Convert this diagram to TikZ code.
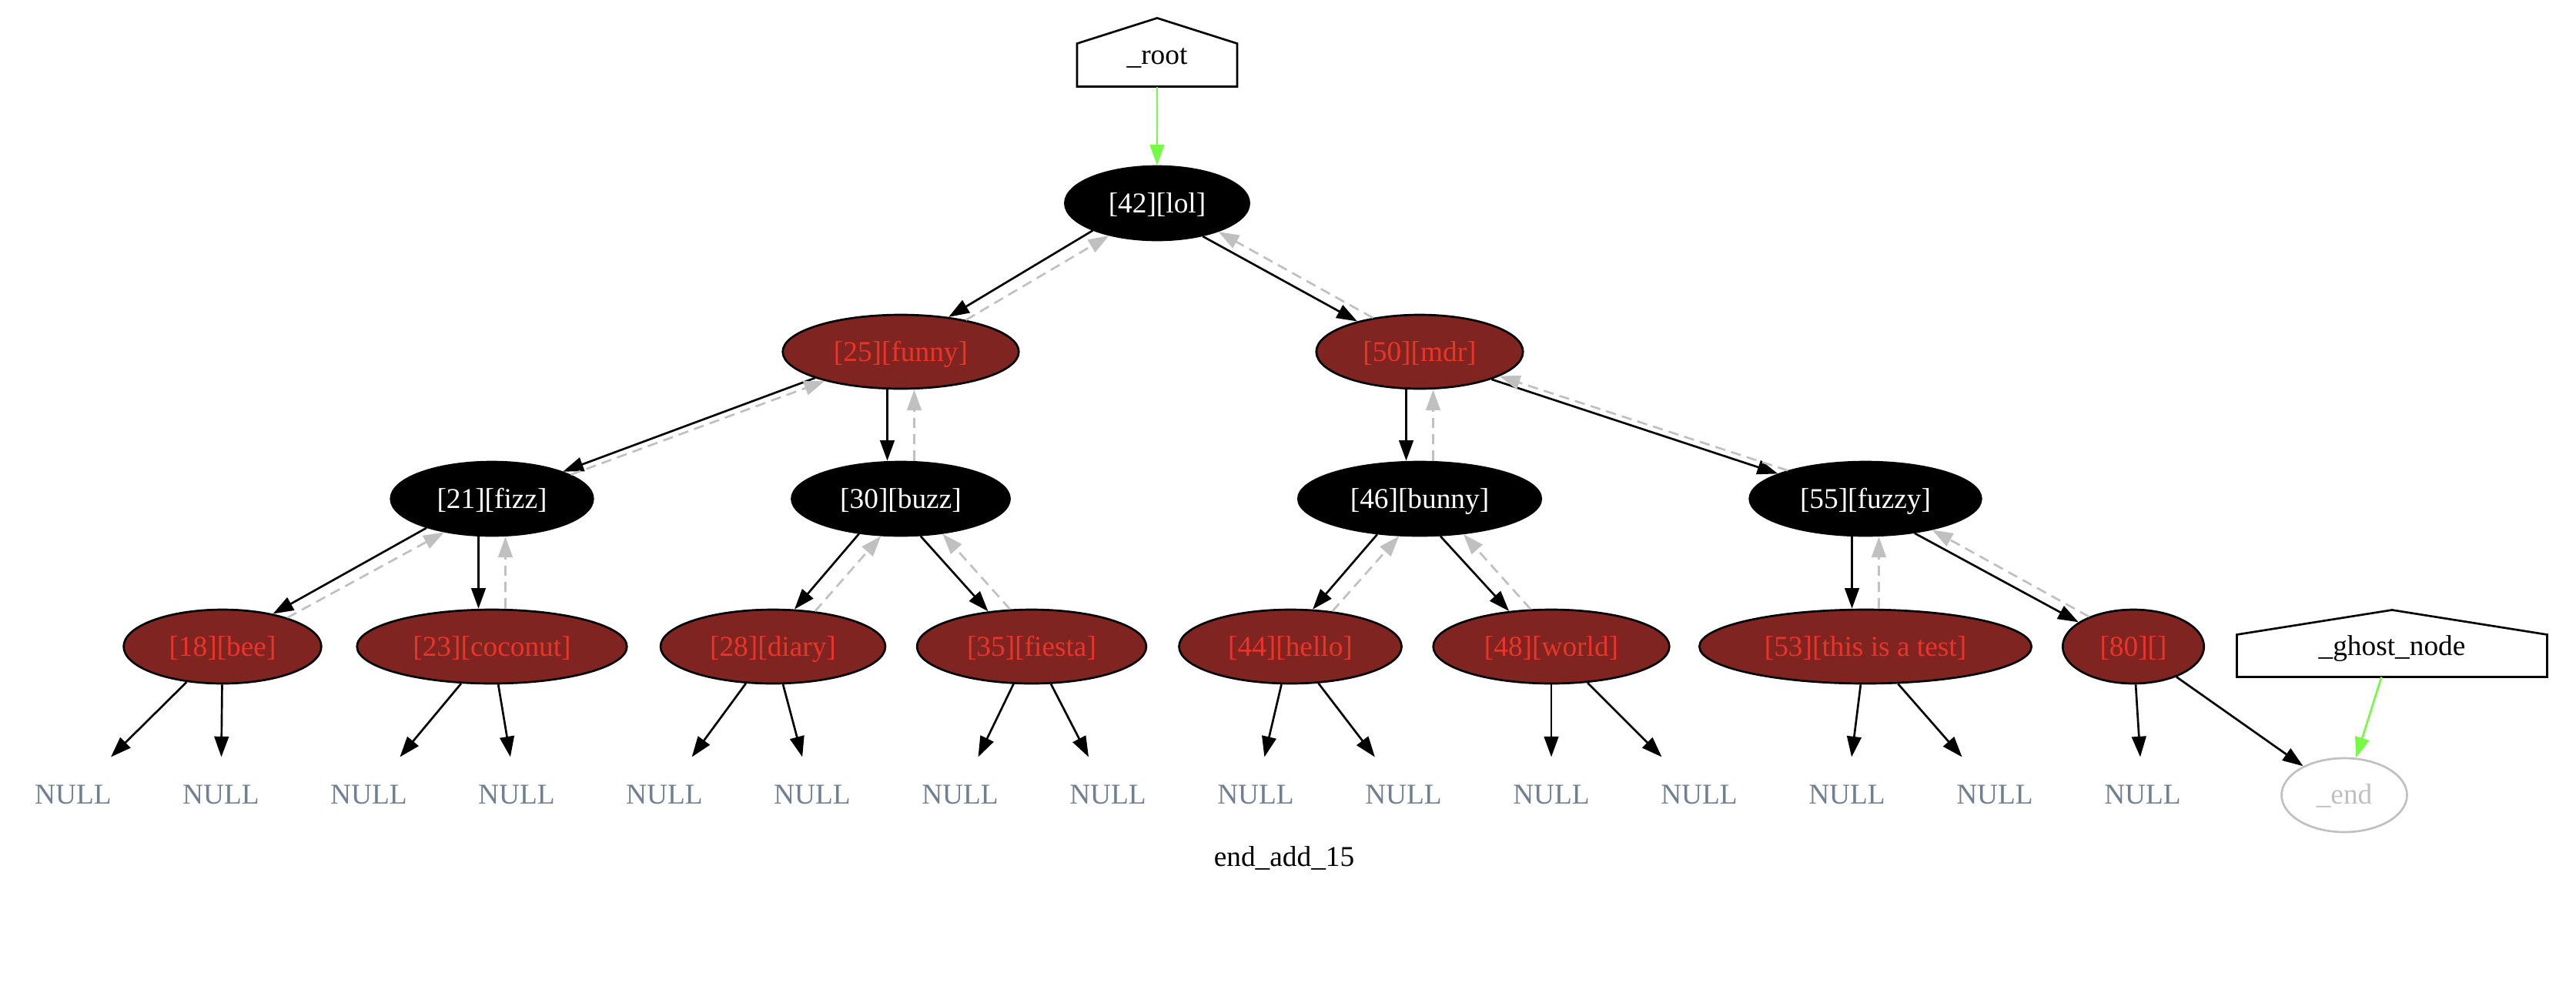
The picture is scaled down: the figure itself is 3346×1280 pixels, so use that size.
\documentclass[tikz,border=0pt]{standalone}
\usepackage{fontspec}
\setmainfont{Liberation Serif}
\usetikzlibrary{arrows.meta,calc,shapes.geometric}
\definecolor{rbfill}{RGB}{128,36,33}
\definecolor{rbtext}{RGB}{235,52,40}
\definecolor{nulltext}{RGB}{112,128,144}
\definecolor{ghostgray}{RGB}{192,192,192}
\definecolor{linkgreen}{RGB}{118,250,72}
\tikzset{
  every node/.style={font=\fontsize{14pt}{16pt}\selectfont},
  rbnode/.style={ellipse, draw=black, line width=1pt, inner xsep=8pt, inner ysep=4pt, minimum height=36pt, minimum width=54pt, text height=11pt, text depth=2pt},
  blacknode/.style={rbnode, fill=black, text=white},
  rednode/.style={rbnode, fill=rbfill, text=rbtext},
  nullnode/.style={rectangle, minimum width=54pt, minimum height=36pt, inner sep=0pt, text=nulltext},
  endnode/.style={ellipse, draw=ghostgray, line width=1pt, text=ghostgray, inner xsep=8pt, inner ysep=4pt, minimum height=36pt, minimum width=54pt, text height=10.5pt, text depth=2pt},
  housenode/.style={rectangle, inner sep=0pt, text height=11.6pt, text depth=0pt},
  houseline/.style={line width=1pt, line join=miter},
  childedge/.style={line width=1pt, -{Triangle[length=10pt,width=7pt]}},
  parentedge/.style={line width=1pt, color=ghostgray, dash pattern=on 5pt off 3pt, -{Triangle[length=10pt,width=7pt]}},
  greenedge/.style={line width=1pt, color=linkgreen, -{Triangle[length=10pt,width=7pt]}}
}
\begin{document}
\begin{tikzpicture}[x=0.375pt, y=-0.375pt]
\useasboundingbox (0,0) rectangle (3346,1280);

% house nodes
\node[housenode, minimum width=77.6pt, minimum height=33pt] (root) at (1503,68) {\_root};
\draw[houseline] (root.south west) -- (root.south east) -- ([yshift=-12.4pt]root.north east) -- (root.north) -- ([yshift=-12.4pt]root.north west) -- cycle;
\node[housenode, minimum width=150.75pt, minimum height=32.25pt] (ghost) at (3107,836) {\_ghost\_node};
\draw[houseline] (ghost.south west) -- (ghost.south east) -- ([yshift=-12pt]ghost.north east) -- (ghost.north) -- ([yshift=-12pt]ghost.north west) -- cycle;

% tree nodes
\node[blacknode] (n42) at (1503,264) {[42][lol]};
\node[rednode] (n25) at (1170,457) {[25][funny]};
\node[rednode] (n50) at (1844,457) {[50][mdr]};
\node[blacknode] (n21) at (639,648) {[21][fizz]};
\node[blacknode] (n30) at (1170,648) {[30][buzz]};
\node[blacknode] (n46) at (1844,648) {[46][bunny]};
\node[blacknode] (n55) at (2423,648) {[55][fuzzy]};
\node[rednode] (n18) at (289,840) {[18][bee]};
\node[rednode] (n23) at (639,840) {[23][coconut]};
\node[rednode] (n28) at (1004,840) {[28][diary]};
\node[rednode] (n35) at (1340,840) {[35][fiesta]};
\node[rednode] (n44) at (1676,840) {[44][hello]};
\node[rednode] (n48) at (2015,840) {[48][world]};
\node[rednode] (n53) at (2423,840) {[53][this is a test]};
\node[rednode] (n80) at (2771,840) {[80][]};
\node[endnode] (nend) at (3045,1033) {\_end};
\foreach \i in {0,...,14} {
  \node[nullnode] (null\i) at ({95+192*\i},1032) {NULL};
}
\node (caption) at (1668,1115) {end\_add\_15};

% green links
\draw[greenedge] (root) -- (n42);
\draw[greenedge] (ghost) -- (nend);

% parent/child pairs
\draw[childedge] (n42.203.8) -- (n25.36);
\draw[parentedge] (n25.26.8) -- (n42.214.3);
\draw[childedge] (n42.324.4) -- (n50.154.6);
\draw[parentedge] (n50.144.2) -- (n42.335.5);

\draw[childedge] (n25.197.2) -- (n21.21);
\draw[parentedge] (n21.17) -- (n25.201.8);
\draw[childedge] ([xshift=-6.56pt]n25.south) -- ([xshift=-6.56pt]n30.north);
\draw[parentedge] ([xshift=6.56pt]n30.north) -- ([xshift=6.56pt]n25.south);

\draw[childedge] ([xshift=-6.56pt]n50.south) -- ([xshift=-6.56pt]n46.north);
\draw[parentedge] ([xshift=6.56pt]n46.north) -- ([xshift=6.56pt]n50.south);
\draw[childedge] (n50.339.4) -- (n55.164.8);
\draw[parentedge] (n55.160.2) -- (n50.343.8);

\draw[childedge] (n21.204.9) -- (n18.33.3);
\draw[parentedge] (n18.24.5) -- (n21.215.8);
\draw[childedge] ([xshift=-6.56pt]n21.south) -- ([xshift=-6.56pt]n23.north);
\draw[parentedge] ([xshift=6.56pt]n23.north) -- ([xshift=6.56pt]n21.south);

\draw[childedge] (n30.220.5) -- (n28.60.6);
\draw[parentedge] (n28.40) -- (n30.242);
\draw[childedge] (n30.298.9) -- (n35.141.6);
\draw[parentedge] (n35.120.8) -- (n30.320.8);

\draw[childedge] (n46.220.6) -- (n44.59.7);
\draw[parentedge] (n44.40) -- (n46.241);
\draw[childedge] (n46.299.7) -- (n48.140.6);
\draw[parentedge] (n48.119.4) -- (n46.321);

\draw[childedge] ([xshift=-6.56pt]n55.south) -- ([xshift=-6.56pt]n53.north);
\draw[parentedge] ([xshift=6.56pt]n53.north) -- ([xshift=6.56pt]n55.south);
\draw[childedge] (n55.325.5) -- (n80.156.8);
\draw[parentedge] (n80.146.3) -- (n55.335.6);

% leaf edges
\draw[childedge] (n18) -- (null0);
\draw[childedge] (n18) -- (null1);
\draw[childedge] (n23) -- (null2);
\draw[childedge] (n23) -- (null3);
\draw[childedge] (n28) -- (null4);
\draw[childedge] (n28) -- (null5);
\draw[childedge] (n35) -- (null6);
\draw[childedge] (n35) -- (null7);
\draw[childedge] (n44) -- (null8);
\draw[childedge] (n44) -- (null9);
\draw[childedge] (n48) -- (null10);
\draw[childedge] (n48) -- (null11);
\draw[childedge] (n53) -- (null12);
\draw[childedge] (n53) -- (null13);
\draw[childedge] (n80) -- (null14);
\draw[childedge] (n80) -- (nend);
\end{tikzpicture}
\end{document}
